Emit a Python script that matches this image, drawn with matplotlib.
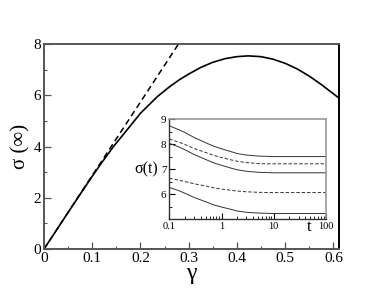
import matplotlib
matplotlib.use("Agg")
import matplotlib.pyplot as plt
from matplotlib.ticker import MultipleLocator, LogLocator, NullFormatter, FixedLocator

plt.rcParams['font.family'] = 'serif'
plt.rcParams['font.serif'] = ['Liberation Serif', 'DejaVu Serif']
FAM = ['Liberation Serif', 'DejaVu Serif']

# Main curve: steady-state stress vs strain amplitude
gamma = [0, 0.02, 0.05, 0.08, 0.1, 0.12, 0.144, 0.17, 0.2, 0.235, 0.26, 0.28, 0.30,
         0.325, 0.35, 0.375, 0.40, 0.423, 0.45, 0.475, 0.50, 0.525, 0.55, 0.575, 0.60, 0.611]
sigma_inf = [0, 0.57, 1.43, 2.28, 2.84, 3.38, 4.0, 4.6, 5.3, 5.95, 6.33, 6.6, 6.83,
             7.09, 7.29, 7.43, 7.51, 7.54, 7.51, 7.41, 7.25, 7.03, 6.75, 6.42, 6.06, 5.9]
# Linear (dashed) reference
lin_gamma = [0, 0.30]
lin_sigma = [0, 8.61]

# Inset: sigma(t)
t = [0.1, 0.15, 0.2, 0.3, 0.5, 0.7, 1, 1.5, 2, 3, 5, 7, 10, 100]
s1 = [8.73, 8.58, 8.46, 8.26, 8.05, 7.92, 7.81, 7.70, 7.62, 7.56, 7.52, 7.51, 7.50, 7.50]
s2 = [8.20, 8.08, 7.98, 7.82, 7.66, 7.55, 7.46, 7.37, 7.31, 7.26, 7.22, 7.21, 7.21, 7.21]
s3 = [8.03, 7.89, 7.77, 7.58, 7.38, 7.25, 7.15, 7.04, 6.97, 6.91, 6.87, 6.86, 6.85, 6.85]
s4 = [6.63, 6.56, 6.50, 6.41, 6.32, 6.25, 6.20, 6.15, 6.12, 6.09, 6.07, 6.06, 6.06, 6.06]
s5 = [6.26, 6.14, 6.03, 5.86, 5.69, 5.57, 5.48, 5.39, 5.32, 5.27, 5.24, 5.23, 5.22, 5.22]
inset_series = [(s1, '-'), (s2, '--'), (s3, '-'), (s4, '--'), (s5, '-')]

main_xticks = [0, 0.1, 0.2, 0.3, 0.4, 0.5, 0.6]
main_xlabels = ['0', '0.1', '0.2', '0.3', '0.4', '0.5', '0.6']
main_yticks = [0, 2, 4, 6, 8]
main_ylabels = ['0', '2', '4', '6', '8']
inset_xticks = [0.1, 1, 10, 100]
inset_xlabels = ['0.1', '1', '10', '100']
inset_yticks = [6, 7, 8, 9]
inset_ylabels = ['6', '7', '8', '9']

fig = plt.figure(figsize=(3.81, 2.94), dpi=100)
ax = fig.add_axes([0.1155, 0.153, 0.7735, 0.697])
ax.plot(gamma, sigma_inf, color='black', lw=1.2)
ax.plot(lin_gamma, lin_sigma, color='black', lw=1.1, ls=(0, (4, 2.5)))
ax.set_xlim(0, 0.611)
ax.set_ylim(0, 8)
ax.set_xticks(main_xticks)
ax.set_xticklabels(main_xlabels, family=FAM, fontsize=11)
ax.set_yticks(main_yticks)
ax.set_yticklabels(main_ylabels, family=FAM, fontsize=11)
ax.xaxis.set_minor_locator(MultipleLocator(0.05))
ax.yaxis.set_minor_locator(MultipleLocator(1))
ax.tick_params(which='both', direction='in', color='#555555')
ax.tick_params(which='major', length=5, width=0.9, pad=2)
ax.tick_params(which='minor', length=2.5, width=0.8)
for side in ['left', 'bottom', 'top']:
    ax.spines[side].set_color('#555555')
    ax.spines[side].set_linewidth(1.4)
ax.spines['right'].set_color('black')
ax.spines['right'].set_linewidth(1.4)
ax.set_xlabel('γ', fontsize=17, labelpad=-1, family=FAM)
ax.set_ylabel('σ (∞)', fontsize=15, family=FAM)
ax.yaxis.set_label_coords(-0.045, 0.5)

ins = fig.add_axes([0.4444, 0.255, 0.4112, 0.340])
for s, ls in inset_series:
    ins.plot(t, s, color='#333333', lw=0.7, ls=ls if ls == '-' else (0, (3.5, 2)))
ins.set_xscale('log')
ins.set_xlim(0.1, 100)
ins.set_ylim(5, 9)
ins.xaxis.set_major_locator(FixedLocator(inset_xticks))
ins.set_xticklabels(inset_xlabels, family=FAM, fontsize=7.5)
ins.xaxis.set_minor_locator(LogLocator(base=10, subs=range(2, 10), numticks=20))
ins.xaxis.set_minor_formatter(NullFormatter())
ins.set_yticks(inset_yticks)
ins.set_yticklabels(inset_ylabels, family=FAM, fontsize=8)
ins.yaxis.set_minor_locator(MultipleLocator(0.5))
ins.tick_params(which='both', direction='in', pad=2)
ins.tick_params(which='major', length=4, width=0.8)
ins.tick_params(which='minor', length=2, width=0.6)
for side in ['left', 'bottom']:
    ins.spines[side].set_color('#333333')
    ins.spines[side].set_linewidth(1.0)
for side in ['top', 'right']:
    ins.spines[side].set_color('#999999')
    ins.spines[side].set_linewidth(1.2)
ins.set_ylabel('σ(t)', fontsize=11.5, rotation=0, va='center', family=FAM)
ins.yaxis.set_label_coords(-0.15, 0.5)
ins.text(0.89, -0.075, 't', transform=ins.transAxes, fontsize=12, ha='center', va='center', family=FAM)

fig.savefig('out.png', dpi=100)
